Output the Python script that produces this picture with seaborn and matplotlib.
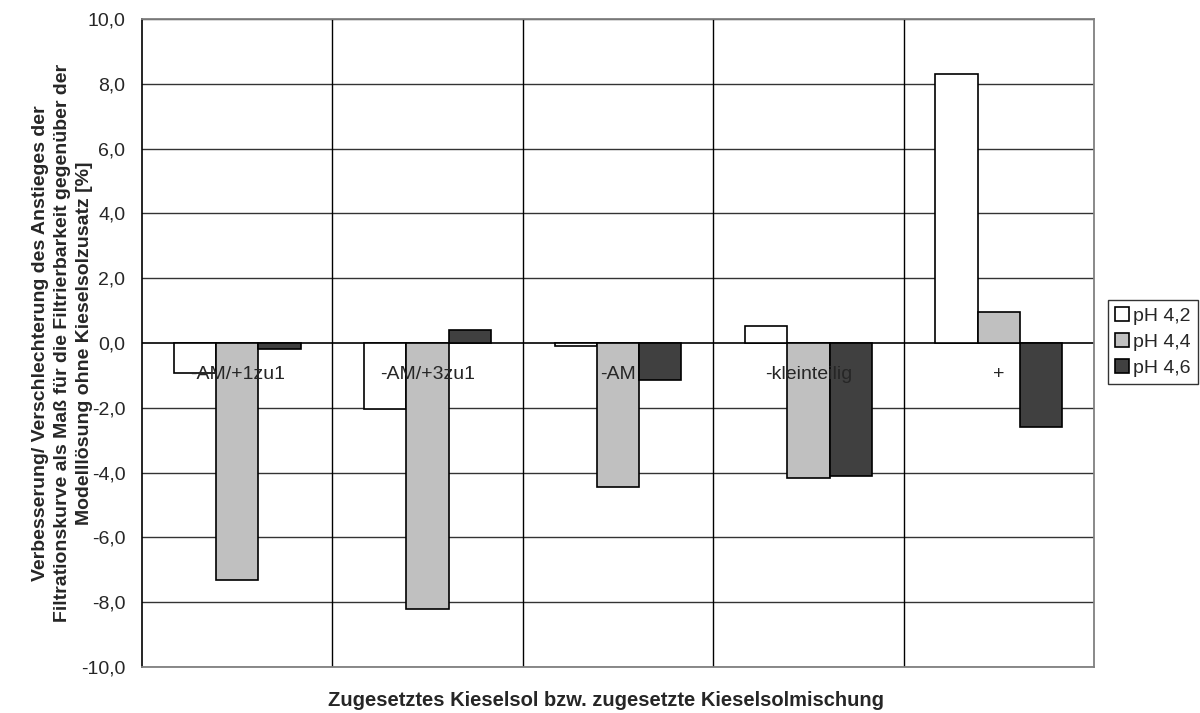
import matplotlib
matplotlib.use("Agg")
import matplotlib.pyplot as plt
import matplotlib.ticker as mticker
import numpy as np
import pandas as pd
import seaborn as sns

categories = ["-AM/+1zu1", "-AM/+3zu1", "-AM", "-kleinteilig", "+"]
series = ["pH 4,2", "pH 4,4", "pH 4,6"]
ph42 = [-0.93, -2.04, -0.10, 0.53, 8.31]
ph44 = [-7.30, -8.22, -4.45, -4.17, 0.97]
ph46 = [-0.20, 0.40, -1.15, -4.12, -2.58]
colors = ["#ffffff", "#c0c0c0", "#404040"]
yticks = [-10, -8, -6, -4, -2, 0, 2, 4, 6, 8, 10]

df = pd.DataFrame({
    "Kategorie": categories * 3,
    "Serie": [s for s in series for _ in categories],
    "Wert": ph42 + ph44 + ph46,
})

sns.set_style("white")
plt.rcParams["font.family"] = ["Liberation Sans", "DejaVu Sans"]

fig = plt.figure(figsize=(12, 7.13), dpi=100)
ax = fig.add_axes([0.1183, 0.0645, 0.7934, 0.9089])

sns.barplot(data=df, x="Kategorie", y="Wert", hue="Serie", order=categories,
            hue_order=series, palette=colors, width=2 / 3, edgecolor="black",
            linewidth=1.2, saturation=1, ax=ax, zorder=3, legend=True)

ax.set_xlim(-0.5, len(categories) - 0.5)
ax.set_ylim(-10, 10)
ax.set_yticks(yticks)
ax.yaxis.set_major_formatter(mticker.FuncFormatter(lambda v, p: f"{v:.1f}".replace(".", ",")))
ax.tick_params(axis="y", direction="out", length=7, width=1, color="black",
               labelsize=14, pad=5)

# horizontal grid lines
for v in yticks:
    ax.axhline(v, color="#000000" if v == 0 else "#333333",
               lw=1.2 if v == 0 else 1.0, zorder=1)
# vertical separators between categories
for b in np.arange(0.5, len(categories) - 0.5, 1):
    ax.axvline(b, color="#000000", lw=1.0, zorder=1)

ax.set_xticks([])
for i, c in enumerate(categories):
    ax.annotate(c, xy=(i, 0), xytext=(0, -26), textcoords="offset points",
                ha="center", va="baseline", fontsize=14, zorder=5)

for side in ["top", "right", "bottom"]:
    ax.spines[side].set_color("#808080")
    ax.spines[side].set_linewidth(1.3)
ax.spines["left"].set_color("#000000")
ax.spines["left"].set_linewidth(1.2)

ax.set_xlabel("Zugesetztes Kieselsol bzw. zugesetzte Kieselsolmischung",
              fontsize=14.5, fontweight="bold")
ax.xaxis.set_label_coords(0.487, -0.052)
ax.xaxis.label.set_va("center")

ax.set_ylabel("Verbesserung/ Verschlechterung des Anstieges der\n"
              "Filtrationskurve als Maß für die Filtrierbarkeit gegenüber der\n"
              "Modelllösung ohne Kieselsolzusatz [%]",
              fontsize=14, fontweight="bold", linespacing=1.38)
ax.yaxis.set_label_coords(-0.083, 0.5)
ax.yaxis.label.set_va("center")

leg = ax.legend(loc="upper left", bbox_to_anchor=(1108 / 1200, 1 - 300 / 713),
                bbox_transform=fig.transFigure, frameon=True, fancybox=False,
                edgecolor="black", fontsize=14, handlelength=0.75,
                handleheight=0.75, handletextpad=0.2, borderpad=0.35,
                labelspacing=0.42, borderaxespad=0)
leg.get_frame().set_linewidth(1.0)

fig.savefig("out.png", dpi=100, facecolor="white")
